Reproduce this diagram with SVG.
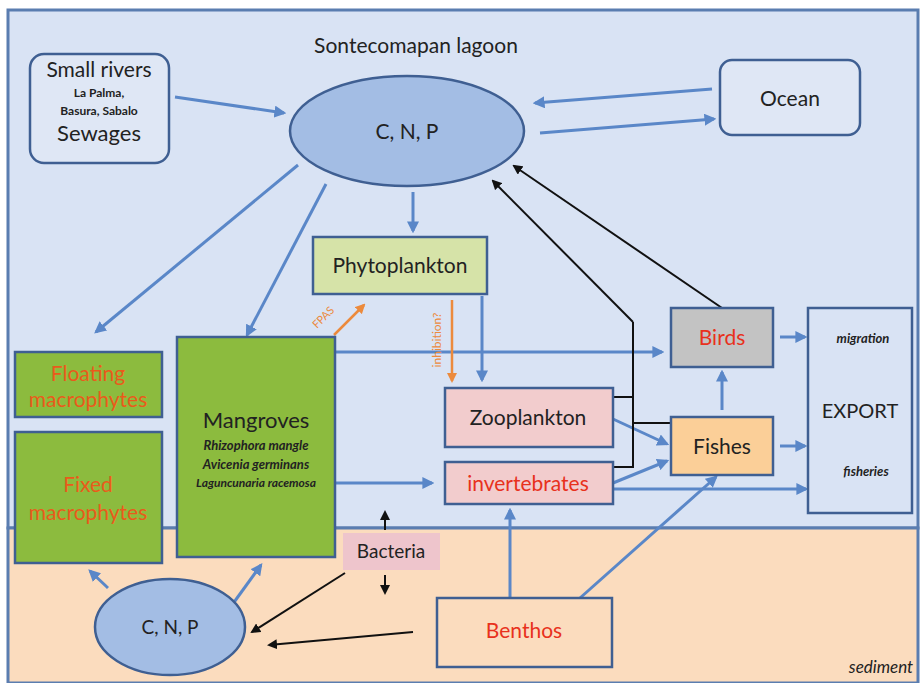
<svg xmlns="http://www.w3.org/2000/svg" width="920" height="683" viewBox="0 0 920 683">
<defs>
<style>
text{font-family:Lato,"Liberation Sans",sans-serif;text-anchor:middle;fill:#222}
.box{stroke:#3f5f92;stroke-width:2.5}
.blue{stroke:#5a87c8;stroke-width:3;fill:none}
.blk{stroke:#111;stroke-width:2;fill:none}
.org{stroke:#ec8a3c;stroke-width:2.5;fill:none}
.red{fill:#e8311c}
.or{fill:#ea5a1b}
.it{font-style:italic;font-weight:bold}
.sb{font-weight:bold}
</style>
<marker id="ab" viewBox="0 0 10 10" refX="8" refY="5" markerWidth="4" markerHeight="4" orient="auto"><path d="M0,0L10,5L0,10z" fill="#5a87c8"/></marker>
<marker id="ak" viewBox="0 0 10 10" refX="8" refY="5" markerWidth="5" markerHeight="5" orient="auto"><path d="M0,0L10,5L0,10z" fill="#111"/></marker>
<marker id="ao" viewBox="0 0 10 10" refX="8" refY="5" markerWidth="4" markerHeight="4" orient="auto"><path d="M0,0L10,5L0,10z" fill="#ec8a3c"/></marker>
</defs>
<rect width="920" height="683" fill="#fff"/>
<g id="background">
<rect x="8" y="10" width="910" height="518" fill="#d9e3f4" stroke="#5a7db0" stroke-width="3"/>
<rect x="8" y="528" width="910" height="155" fill="#fbdcbe" stroke="#5a7db0" stroke-width="3"/>
<text x="416" y="53" font-size="21">Sontecomapan lagoon</text>
<text x="881" y="673" font-size="17" class="it" style="font-weight:normal">sediment</text>
</g>
<g id="connectors">
<line class="blue" x1="175" y1="97" x2="284" y2="113" stroke-width="4" marker-end="url(#ab)"/>
<line class="blue" x1="712" y1="89" x2="535" y2="103" marker-end="url(#ab)"/>
<line class="blue" x1="540" y1="133" x2="714" y2="119" marker-end="url(#ab)"/>
<line class="blue" x1="413" y1="192" x2="413" y2="231" marker-end="url(#ab)"/>
<line class="blue" x1="298" y1="165" x2="96" y2="332" marker-end="url(#ab)"/>
<line class="blue" x1="326" y1="184" x2="247" y2="335" marker-end="url(#ab)"/>
<line class="blue" x1="482" y1="296" x2="482" y2="380" marker-end="url(#ab)"/>
<line class="blue" x1="335" y1="352" x2="662" y2="352" marker-end="url(#ab)"/>
<line class="blue" x1="335" y1="483" x2="432" y2="483" marker-end="url(#ab)"/>
<line class="blue" x1="613" y1="419" x2="667" y2="444" marker-end="url(#ab)"/>
<line class="blue" x1="613" y1="483" x2="667" y2="461" marker-end="url(#ab)"/>
<line class="blue" x1="613" y1="489" x2="806" y2="489" marker-end="url(#ab)"/>
<line class="blue" x1="722" y1="410" x2="722" y2="372" marker-end="url(#ab)"/>
<line class="blue" x1="780" y1="337" x2="805" y2="337" marker-end="url(#ab)"/>
<line class="blue" x1="780" y1="446" x2="805" y2="446" marker-end="url(#ab)"/>
<line class="blue" x1="510" y1="598" x2="510" y2="510" marker-end="url(#ab)"/>
<line class="blue" x1="580" y1="598" x2="716" y2="477" marker-end="url(#ab)"/>
<line class="blue" x1="108" y1="588" x2="90" y2="571" marker-end="url(#ab)"/>
<line class="blue" x1="232" y1="605" x2="261" y2="565" marker-end="url(#ab)"/>
<line class="org" x1="334" y1="335" x2="364" y2="305" marker-end="url(#ao)"/>
<text x="326" y="320" font-size="11" style="fill:#ec8a3c" transform="rotate(-45 326 320)">FPAS</text>
<line class="org" x1="452" y1="300" x2="452" y2="381" marker-end="url(#ao)"/>
<text x="441" y="340" font-size="12" style="fill:#ec8a3c" transform="rotate(-90 441 340)">inhibition?</text>
<polyline class="blk" points="613,397 633,397"/>
<polyline class="blk" points="613,467 633,467 633,322"/>
<line class="blk" x1="633" y1="423" x2="671" y2="423"/>
<line class="blk" x1="633" y1="322" x2="493" y2="181" marker-end="url(#ak)"/>
<line class="blk" x1="722" y1="308" x2="514" y2="166" stroke-width="3" marker-end="url(#ak)"/>
<line class="blk" x1="385" y1="530" x2="385" y2="512" marker-end="url(#ak)"/>
<line class="blk" x1="385" y1="575" x2="385" y2="593" marker-end="url(#ak)"/>
<line class="blk" x1="345" y1="573" x2="252" y2="632" marker-end="url(#ak)"/>
<line class="blk" x1="413" y1="632" x2="269" y2="645" marker-end="url(#ak)"/>
</g>
<g id="small-rivers">
<rect x="30" y="54" width="139" height="109" rx="14" fill="#dfe7f5" class="box"/>
<text x="99" y="77" font-size="21">Small rivers</text>
<text x="99" y="97" font-size="12" class="sb">La Palma,</text>
<text x="99" y="115" font-size="12" class="sb">Basura, Sabalo</text>
<text x="99" y="141" font-size="22">Sewages</text>
</g>
<g id="cnp-water">
<ellipse cx="407" cy="131" rx="117" ry="55" fill="#a3bde4" stroke="#3f5f92" stroke-width="2.5"/>
<text x="407" y="139" font-size="21">C, N, P</text>
</g>
<g id="ocean">
<rect x="720" y="60" width="140" height="75" rx="12" fill="#dfe7f5" class="box"/>
<text x="790" y="106" font-size="21">Ocean</text>
</g>
<g id="phytoplankton">
<rect x="313" y="237" width="174" height="57" fill="#d6e3a8" class="box"/>
<text x="400" y="273" font-size="21">Phytoplankton</text>
</g>
<g id="floating-macrophytes">
<rect x="15" y="352" width="147" height="65" fill="#8cbb3e" class="box"/>
<text x="88" y="381" font-size="21" class="or">Floating</text>
<text x="88" y="407" font-size="21" class="or">macrophytes</text>
</g>
<g id="fixed-macrophytes">
<rect x="15" y="432" width="147" height="131" fill="#8cbb3e" class="box"/>
<text x="88" y="492" font-size="21" class="or">Fixed</text>
<text x="88" y="520" font-size="21" class="or">macrophytes</text>
</g>
<g id="mangroves">
<rect x="177" y="337" width="158" height="220" fill="#8cbb3e" class="box"/>
<text x="256" y="428" font-size="22">Mangroves</text>
<text x="256" y="450" font-size="13" class="it">Rhizophora mangle</text>
<text x="256" y="469" font-size="13" class="it">Avicenia germinans</text>
<text x="256" y="487" font-size="12" class="it">Laguncunaria racemosa</text>
</g>
<g id="birds">
<rect x="671" y="308" width="102" height="59" fill="#c3c3c3" class="box"/>
<text x="722" y="345" font-size="21" class="red">Birds</text>
</g>
<g id="export">
<rect x="808" y="308" width="104" height="205" fill="#d9e3f4" class="box"/>
<text x="863" y="343" font-size="13" class="it">migration</text>
<text x="860" y="418" font-size="20">EXPORT</text>
<text x="866" y="476" font-size="13" class="it">fisheries</text>
</g>
<g id="zooplankton">
<rect x="445" y="388" width="168" height="59" fill="#f2cccd" class="box"/>
<text x="528" y="425" font-size="21">Zooplankton</text>
</g>
<g id="invertebrates">
<rect x="445" y="462" width="168" height="42" fill="#f2cccd" class="box"/>
<text x="528" y="491" font-size="21" class="red">invertebrates</text>
</g>
<g id="fishes">
<rect x="671" y="417" width="102" height="58" fill="#fbcf98" class="box"/>
<text x="722" y="454" font-size="21">Fishes</text>
</g>
<g id="bacteria">
<rect x="343" y="533" width="97" height="37" fill="#eec5cc"/>
<text x="391" y="558" font-size="19">Bacteria</text>
</g>
<g id="cnp-sediment">
<ellipse cx="170" cy="627" rx="75" ry="48" fill="#a3bde4" stroke="#3f5f92" stroke-width="2.5"/>
<text x="170" y="634" font-size="19">C, N, P</text>
</g>
<g id="benthos">
<rect x="437" y="598" width="175" height="69" fill="#fbdcbe" class="box"/>
<text x="524" y="638" font-size="21" class="red">Benthos</text>
</g>
</svg>
